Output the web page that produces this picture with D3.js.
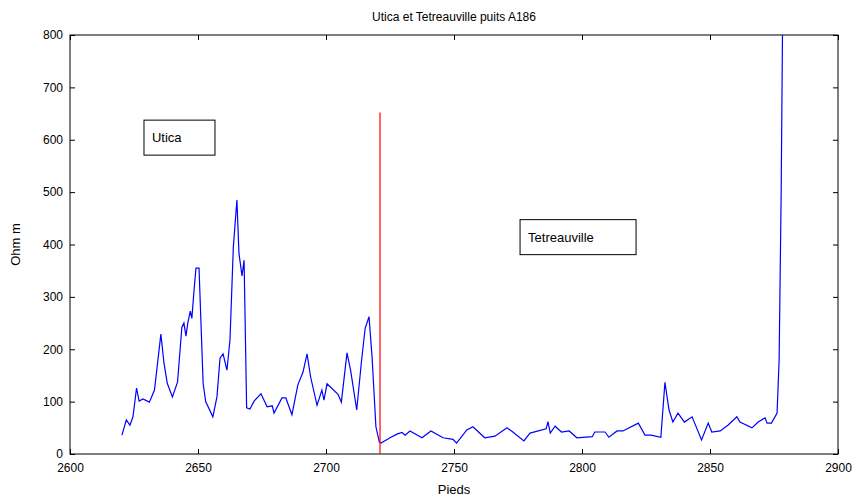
<!DOCTYPE html>
<html><head><meta charset="utf-8">
<script src="https://cdn.jsdelivr.net/npm/d3@7"></script>
<style>body{margin:0;background:#fff}text{font-family:"Liberation Sans",Arial,sans-serif}</style>
</head><body><svg id="c" width="860" height="499"></svg>
<script>
var depth = [2620.3,2622,2623.4,2624.6,2626,2627,2628.5,2631,2633,2635.5,2636.7,2638,2640,2642,2643.7,2644.5,2645.3,2646,2647,2647.6,2648.4,2649.2,2650.4,2652,2653,2655.8,2657.4,2658.6,2659.8,2661.3,2662.5,2663.8,2665.2,2666,2667.2,2668,2669,2670.3,2671.9,2674.6,2677,2679,2679.7,2682.8,2684.3,2686.7,2689,2691,2692.6,2694,2696.5,2698.4,2699.2,2700.4,2704.7,2706,2708.2,2709.6,2712,2713.9,2715.3,2716.8,2718,2719.5,2720.8,
  2721.5,2725,2727.7,2729.7,2730.9,2732.8,2737.5,2741,2745.7,2749.6,2751,2755,2757.4,2762,2766,2770.7,2773,2777.3,2779.7,2786,2786.7,2787.6,2789.5,2792,2795,2798,2804,2805,2809,2810.5,2813.7,2816,2822,2824.6,2827,2830.8,2832.4,2834,2835.5,2837.5,2840,2843,2846.7,2849.3,2850.7,2854,2857,2860.5,2861.7,2866.4,2868.8,2871.5,2872.3,2874,2876.2,2877,2877.8,2878.4];
var ohm = [36,65,55,71,126,101,105,99,122,229,174,135,109,137,242,250,225,250,273,259,309,355,355,135,100,71,109,183,191,160,218,395,485,383,340,370,88,86,101,115,90,92,78,107,107,75,132,156,191,147,93,122,103,134,114,99,193,160,84,179,240,262,185,52,23,
  21,31,38,41,36,44,31,44,31,28,21,46,52,31,34,50,42,25,40,48,62,40,53,42,44,31,33,42,42,32,44,44,59,36,36,32,137,84,61,78,61,71,27,59,42,44,55,71,61,50,61,69,59,59,78,179,500,850];
var xTicks = [2600,2650,2700,2750,2800,2850,2900];
var yTicks = [0,100,200,300,400,500,600,700,800];
var boundary = {depth: 2721.1, top: 652};
var labels = [{text:"Utica", d:2628.9, v:605, w:71}, {text:"Tetreauville", d:2775.8, v:415, w:116}];

var svg = d3.select("#c"), L = 70, R = 838, T = 35, B = 454;
var x = d3.scaleLinear().domain([2600,2900]).range([L,R]);
var y = d3.scaleLinear().domain([0,800]).range([B,T]);

svg.append("clipPath").attr("id","clip").append("rect").attr("x",L).attr("y",T).attr("width",R-L).attr("height",B-T);

// axes, ticks inward
svg.append("g").attr("transform","translate(0,"+B+")")
  .call(d3.axisBottom(x).tickValues(xTicks).tickFormat(d3.format("d")).tickSizeInner(-5).tickSizeOuter(0).tickPadding(9));
svg.append("g").attr("transform","translate("+L+",0)")
  .call(d3.axisLeft(y).tickValues(yTicks).tickSizeInner(-5).tickSizeOuter(0).tickPadding(7));
svg.append("g").attr("transform","translate(0,"+T+")").call(d3.axisTop(x).tickValues(xTicks).tickFormat("").tickSizeInner(-5).tickSizeOuter(0));
svg.append("g").attr("transform","translate("+R+",0)").call(d3.axisRight(y).tickValues(yTicks).tickFormat("").tickSizeInner(-5).tickSizeOuter(0));
svg.selectAll(".domain").remove();
svg.selectAll(".tick text").attr("font-size",12).attr("fill","#000").attr("font-family","Liberation Sans, Arial");
svg.append("rect").attr("x",L).attr("y",T).attr("width",R-L).attr("height",B-T).attr("fill","none").attr("stroke","#000");

var line = d3.line().x(function(d,i){return x(depth[i]);}).y(function(d){return y(d);});
svg.append("path").datum(ohm).attr("clip-path","url(#clip)").attr("d",line).attr("fill","none").attr("stroke","#0000ff").attr("stroke-width",1.2);

svg.append("line").attr("x1",x(boundary.depth)).attr("x2",x(boundary.depth)).attr("y1",y(0)).attr("y2",y(boundary.top)).attr("stroke","#ff0000").attr("stroke-width",1.2);

labels.forEach(function(l){
  svg.append("rect").attr("x",x(l.d)).attr("y",y(l.v)-17).attr("width",l.w).attr("height",35).attr("fill","#fff").attr("stroke","#000");
  svg.append("text").attr("x",x(l.d)+8).attr("y",y(l.v)+5).attr("font-size",13).text(l.text);
});

svg.append("text").attr("x",(L+R)/2).attr("y",21).attr("text-anchor","middle").attr("font-size",12).text("Utica et Tetreauville puits A186");
svg.append("text").attr("x",(L+R)/2).attr("y",494).attr("text-anchor","middle").attr("font-size",13).text("Pieds");
svg.append("text").attr("transform","translate(20,"+((T+B)/2)+") rotate(-90)").attr("text-anchor","middle").attr("font-size",13).text("Ohm m");
</script></body></html>
